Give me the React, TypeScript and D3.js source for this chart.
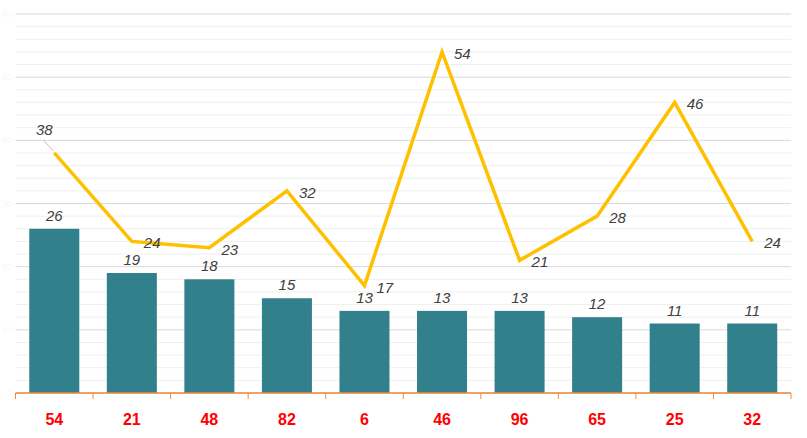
import React from "react";
import * as d3 from "d3";

const categories = ["54", "21", "48", "82", "6", "46", "96", "65", "25", "32"];
const barValues = [26, 19, 18, 15, 13, 13, 13, 12, 11, 11];
const lineValues = [38, 24, 23, 32, 17, 54, 21, 28, 46, 24];
const yTicks = [0, 10, 20, 30, 40, 50, 60];

const W = 807;
const H = 438;
const left = 15.5;
const right = 791;
const top = 14;
const bottom = 393;

export default function App() {
  const x = d3.scaleBand<string>().domain(categories).range([left, right]).paddingInner(0.355).paddingOuter(0.1775);
  const xb = d3.scaleBand<string>().domain(categories).range([left, right]).padding(0);
  const y = d3.scaleLinear().domain([0, 60]).range([bottom, top]);
  const minor = d3.range(0, 61, 2);
  const cx = (c: string) => (xb(c) as number) + xb.bandwidth() / 2;
  const line = d3
    .line<number>()
    .x((_, i) => cx(categories[i]))
    .y((v) => y(v));
  const fontLabel = "'Liberation Sans', Arial, sans-serif";

  return (
    <div style={{ position: "fixed", left: 0, top: 0 }}>
      <svg width={W} height={H} style={{ display: "block", background: "#fff" }}>
        {minor.map((v) => (
          <line key={"m" + v} x1={left} x2={right} y1={y(v)} y2={y(v)} stroke={v % 10 === 0 ? "#d9d9d9" : "#efefef"} strokeWidth={1} />
        ))}
        {yTicks.map((v) => (
          <text key={"yt" + v} x={12} y={y(v) + 3} textAnchor="end" fontSize={9} fill="#f8f8f8" fontFamily={fontLabel}>
            {v}
          </text>
        ))}
        {categories.map((c, i) => (
          <rect key={"b" + c} x={x(c)} y={y(barValues[i])} width={x.bandwidth()} height={bottom - y(barValues[i])} fill="#32808b" />
        ))}
        {categories.map((c, i) => (
          <text key={"bl" + c} x={cx(c)} y={y(barValues[i]) - 8} textAnchor="middle" fontSize={15} fontStyle="italic" fill="#404040" fontFamily={fontLabel}>
            {barValues[i]}
          </text>
        ))}
        <path d={line(lineValues) || ""} fill="none" stroke="#ffc000" strokeWidth={3.5} strokeLinejoin="miter" />
        {categories.map((c, i) => {
          if (i === 0) {
            const px = cx(c);
            const py = y(lineValues[i]);
            return (
              <g key={"ll" + c}>
                <line x1={px - 11} y1={py - 13} x2={px - 1} y2={py - 2} stroke="#bfbfbf" strokeWidth={1} />
                <text x={px - 10} y={py - 18} textAnchor="middle" fontSize={15} fontStyle="italic" fill="#404040" fontFamily={fontLabel}>
                  {lineValues[i]}
                </text>
              </g>
            );
          }
          return (
            <text key={"ll" + c} x={cx(c) + 12} y={y(lineValues[i]) + 7} textAnchor="start" fontSize={15} fontStyle="italic" fill="#404040" fontFamily={fontLabel}>
              {lineValues[i]}
            </text>
          );
        })}
        <line x1={left} x2={right} y1={bottom} y2={bottom} stroke="#ee8a3c" strokeWidth={1.5} />
        {d3.range(categories.length + 1).map((i) => {
          const tx = left + i * xb.step();
          return <line key={"tk" + i} x1={tx} x2={tx} y1={bottom} y2={bottom + 6} stroke="#ee8a3c" strokeWidth={1} />;
        })}
        {categories.map((c) => (
          <text key={"xl" + c} x={cx(c)} y={425} textAnchor="middle" fontSize={16} fontWeight="bold" fill="#ff0000" fontFamily={fontLabel}>
            {c}
          </text>
        ))}
      </svg>
    </div>
  );
}
